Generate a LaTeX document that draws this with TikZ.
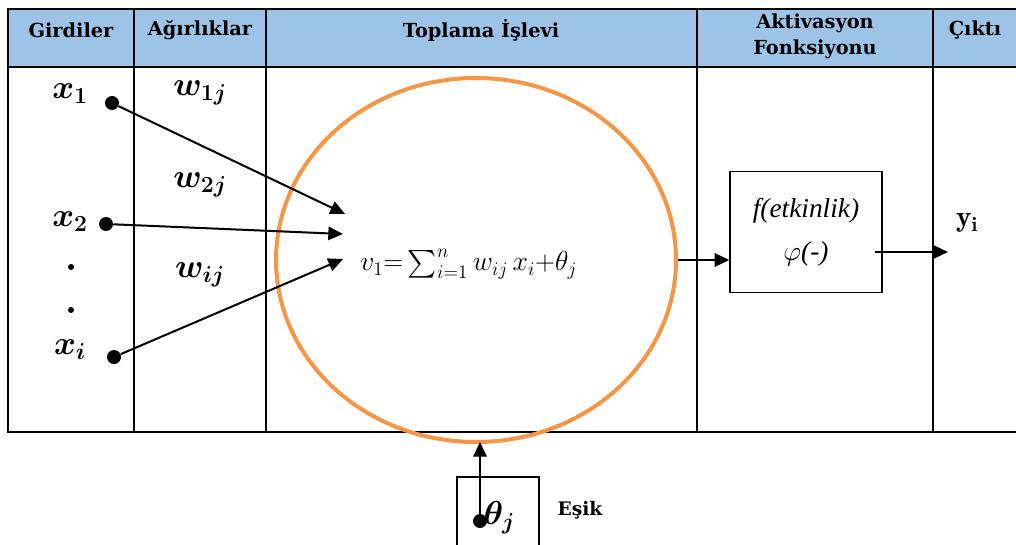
\documentclass[tikz,border=0pt]{standalone}
\usepackage{fontspec}
\usepackage{amsmath}
\newfontfamily\hdrfont{DejaVu Serif}
\newfontfamily\boxfont{Liberation Serif}
\usetikzlibrary{arrows.meta,shapes.geometric}
\definecolor{hdrblue}{RGB}{157,195,230}
\definecolor{sumorange}{RGB}{247,150,70}
\tikzset{
  grid/.style={line width=1.5pt, black},
  hdr/.style={font=\hdrfont\bfseries\fontsize{14.5}{19.5}\selectfont, align=center},
  dotnode/.style={circle, fill=black, inner sep=0pt, minimum size=10.5pt},
  inlab/.style={font=\fontsize{23}{24}\selectfont\boldmath},
  conn/.style={line width=1.5pt, -{Triangle[length=11pt,width=10pt]}},
}
\begin{document}
\begin{tikzpicture}[x=0.75pt,y=-0.75pt]
\useasboundingbox (0,0) rectangle (1016,545);
\clip (0,0) rectangle (1016,545);
% header
\fill[hdrblue] (8,9) rectangle (1020,67);
\draw[grid] (1020,9) -- (8,9) -- (8,432) -- (1020,432);
\draw[grid] (8,67) -- (1020,67);
\foreach \xx in {134,266,697,933} \draw[grid] (\xx,9) -- (\xx,432);
\node[hdr] (h1) at (71,30) {Girdiler};
\node[hdr] (h2) at (200,30) {Ağırlıklar};
\node[hdr] (h3) at (481,30) {Toplama İşlevi};
\node[hdr] (h4) at (815,36) {Aktivasyon\\Fonksiyonu};
\node[hdr] (h5) at (975,30) {Çıktı};
% inputs
\node[inlab] (lx1) at (70,94) {$x_1$};
\node[inlab] (lx2) at (70,222) {$x_2$};
\node[inlab] (lxi) at (70,350) {$x_i$};
\node[dotnode] (d1) at (112,103) {};
\node[dotnode] (d2) at (106,224) {};
\node[dotnode] (di) at (114,357) {};
\node[circle, fill=black, inner sep=0pt, minimum size=4.5pt] (e1) at (71,267) {};
\node[circle, fill=black, inner sep=0pt, minimum size=4.5pt] (e2) at (71,310) {};
% weights
\node[inlab] (w1) at (200,93) {$w_{1j}$};
\node[inlab] (w2) at (200,185) {$w_{2j}$};
\node[inlab] (wi) at (200,275) {$w_{ij}$};
% summation
\node[draw=sumorange, line width=3pt, ellipse, minimum width=300pt, minimum height=273pt] (sum) at (476,260) {};
\node[font=\fontsize{20}{22}\selectfont, anchor=west, inner sep=0pt] (f) at (360,264) {$v_1{=}\sum_{i=1}^{n} w_{ij}\,x_i{+}\theta_j$};
\coordinate (t1) at (345,214);
\coordinate (t2) at (343,234);
\coordinate (t3) at (343,259);
\draw[conn] (d1) -- (t1);
\draw[conn] (d2) -- (t2);
\draw[conn] (di) -- (t3);
% activation
\node[draw, line width=1pt, minimum width=114pt, minimum height=91pt, font=\boxfont\itshape\fontsize{20.5}{32}\selectfont, align=center] (act) at (806,232) {f(etkinlik)\\$\varphi$(-)};
\coordinate (s1) at (678,260);
\draw[conn] (s1) -- (act.west |- s1);
\coordinate (o1) at (875,252);
\coordinate (o2) at (948,252);
\draw[conn] (o1) -- (o2);
\node[font=\fontsize{22}{24}\selectfont] (y) at (967,223) {$\mathbf{y}_{\mathbf{i}}$};
% threshold
\draw[line width=1pt] (457,580) -- (457,477) -- (539,477) -- (539,580);
\node[dotnode] (th) at (480,521) {};
\node[inlab, anchor=west, inner sep=1pt] (thl) at (482,518) {$\theta_j$};
\coordinate (thtop) at (480,442);
\draw[conn] (th) -- (thtop);
\node[font=\hdrfont\bfseries\fontsize{14}{16}\selectfont] (esik) at (580,510) {Eşik};
\end{tikzpicture}
\end{document}
